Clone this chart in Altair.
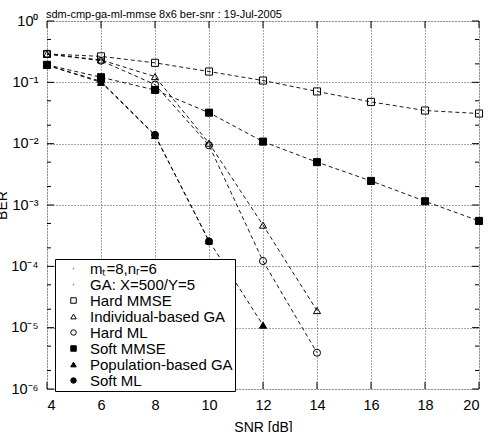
import altair as alt
import pandas as pd

# ---- data ----
snr_all = [4, 6, 8, 10, 12, 14, 16, 18, 20]
hard_mmse = [0.29, 0.265, 0.208, 0.15, 0.107, 0.071, 0.048, 0.0347, 0.031]
indiv_ga = [0.29, 0.232, 0.124, 0.0102, 4.7e-4, 1.9e-5]
hard_ml = [0.29, 0.225, 0.092, 0.0094, 1.22e-4, 3.9e-6]
soft_mmse = [0.193, 0.121, 0.075, 0.032, 0.0108, 0.005, 0.00247, 0.00115, 5.5e-4]
pop_ga = [0.19, 0.1, 0.0136, 2.6e-4, 1.1e-5]
soft_ml = [0.19, 0.104, 0.0139, 2.55e-4]

legend_names = ["mₜ=8,nᵣ=6", "GA: X=500/Y=5", "Hard MMSE", "Individual-based GA",
                "Hard ML", "Soft MMSE", "Population-based GA", "Soft ML"]
series_values = {
    "Hard MMSE": hard_mmse,
    "Individual-based GA": indiv_ga,
    "Hard ML": hard_ml,
    "Soft MMSE": soft_mmse,
    "Population-based GA": pop_ga,
    "Soft ML": soft_ml,
}
x_ticks = [4, 6, 8, 10, 12, 14, 16, 18, 20]
y_major = [1, 0.1, 0.01, 0.001, 1e-4, 1e-5, 1e-6]
y_minor = [5e-1, 2e-1, 5e-2, 2e-2, 5e-3, 2e-3, 5e-4, 2e-4, 5e-5, 2e-5, 5e-6, 2e-6]

rows = []
for name, vals in series_values.items():
    for s, v in zip(snr_all, vals):
        rows.append({"series": name, "snr": s, "ber": v})
df = pd.DataFrame(rows)

FONT = "Liberation Sans"
W, H = 432, 368
dot = "M-0.2,0A0.2,0.2 0 1,0 0.2,0A0.2,0.2 0 1,0 -0.2,0Z"
shape_range = [dot, dot, "square", "triangle-up", "circle", "square", "triangle-up", "circle"]
fill_range = ["#999", "#999", "transparent", "transparent", "transparent", "black", "black", "black"]
stroke_range = ["#999", "#999", "black", "black", "black", "black", "black", "black"]

xscale = alt.Scale(domain=[4, 20], nice=False, zero=False)
yscale = alt.Scale(type="log", domain=[1e-6, 1], nice=False)

ylabel_expr = ("datum.value > 0.5 ? '10⁰' : datum.value > 0.05 ? '10⁻¹' : "
               "datum.value > 0.005 ? '10⁻²' : datum.value > 0.0005 ? '10⁻³' : "
               "datum.value > 0.00005 ? '10⁻⁴' : datum.value > 0.000005 ? '10⁻⁵' : '10⁻⁶'")

X = alt.X("snr:Q", scale=xscale,
          axis=alt.Axis(title="SNR [dB]", values=x_ticks, ticks=False, domain=False,
                        grid=True, gridDash=[1, 2], gridColor="#222", gridWidth=0.8,
                        labelPadding=9, labelFontSize=14.5, titleFontSize=14,
                        titleFontWeight="normal", titlePadding=9, labelFont=FONT, titleFont=FONT,
                        labelColor="black", titleColor="black"))
Y = alt.Y("ber:Q", scale=yscale,
          axis=alt.Axis(title="BER", values=y_major, ticks=False, domain=False,
                        grid=True, gridDash=[1, 2], gridColor="#222", gridWidth=0.8,
                        labelExpr=ylabel_expr, labelPadding=9, labelFontSize=14.5,
                        titleFontSize=14, titleFontWeight="normal", titlePadding=1,
                        labelFont=FONT, titleFont=FONT, labelColor="black", titleColor="black"))

lines = alt.Chart(df).mark_line(color="black", strokeWidth=0.9, strokeDash=[4, 3]).encode(
    x=X, y=Y, detail="series:N", order="snr:Q")

points = alt.Chart(df).mark_point(filled=True, strokeWidth=1, opacity=1, size=50).encode(
    x=alt.X("snr:Q", scale=xscale),
    y=alt.Y("ber:Q", scale=yscale),
    shape=alt.Shape("series:N", scale=alt.Scale(domain=legend_names, range=shape_range),
                    legend=alt.Legend(title=None, orient="none", legendX=8, legendY=238,
                                      fillColor="white", strokeColor="black",
                                      padding=2, rowPadding=-0.4,
                                      labelFont=FONT, labelFontSize=15, labelColor="black",
                                      symbolSize=30, symbolStrokeWidth=1,
                                      symbolOffset=9, labelOffset=9, labelLimit=300)),
    fill=alt.Fill("series:N", scale=alt.Scale(domain=legend_names, range=fill_range)),
    stroke=alt.Stroke("series:N", scale=alt.Scale(domain=legend_names, range=stroke_range)),
)

ymaj_df = pd.DataFrame({"ber": y_major})
ymin_df = pd.DataFrame({"ber": y_minor})
xt_df = pd.DataFrame({"snr": x_ticks})

def yt(data, x1, x2):
    return alt.Chart(data).mark_rule(color="black", strokeWidth=1).encode(
        y=alt.Y("ber:Q", scale=yscale), x=alt.value(x1), x2=alt.value(x2))

def xt(y1, y2):
    return alt.Chart(xt_df).mark_rule(color="black", strokeWidth=1).encode(
        x=alt.X("snr:Q", scale=xscale), y=alt.value(y1), y2=alt.value(y2))

ticks = [yt(ymaj_df, 0, 7), yt(ymaj_df, W, W - 7), yt(ymin_df, 0, 4), yt(ymin_df, W, W - 4),
         xt(H, H - 7), xt(0, 7)]

chart = alt.layer(lines, *ticks, points).properties(
    width=W, height=H,
    title=alt.TitleParams("sdm-cmp-ga-ml-mmse 8x6 ber-snr : 19-Jul-2005", anchor="start",
                          frame="group", fontSize=11, fontWeight="normal", font=FONT,
                          color="black", offset=3, dx=-1, dy=10),
    autosize=alt.AutoSizeParams(type="none"),
    padding={"left": 47, "top": 21, "right": 9, "bottom": 43},
).configure_view(stroke="black", strokeWidth=1).configure_legend(
    strokeWidth=1, cornerRadius=0).configure(background="white")

chart.save("out.html", embed_options={"renderer": "svg", "actions": False})
